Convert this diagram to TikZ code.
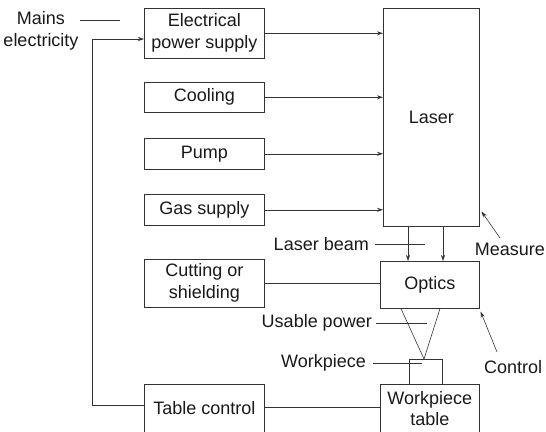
\documentclass[tikz,border=0pt]{standalone}
\usepackage{fontspec}
\setmainfont{Liberation Sans}
\usetikzlibrary{arrows.meta}
\begin{document}
\begin{tikzpicture}[x=1pt,y=-1pt,
  every node/.style={font=\fontsize{18}{22}\selectfont, text=black!90},
  box/.style={draw=black!80, line width=0.6pt, anchor=north west, inner sep=1pt, align=center},
  conn/.style={draw=black!80, line width=0.6pt},
  arr/.style={conn, -{Stealth[length=6pt,width=4pt]}},
  lbl/.style={inner sep=0pt, anchor=east}]
\useasboundingbox (0,0) rectangle (546,431);
\clip (0,0) rectangle (546,431);
% left column
\node[box, minimum width=120pt, minimum height=50pt] (eps) at (144,8) {Electrical\\power supply};
\node[box, minimum width=120pt, minimum height=30pt] (cool) at (144,82) {Cooling};
\node[box, minimum width=120pt, minimum height=31pt] (pump) at (144,138) {Pump};
\node[box, minimum width=120pt, minimum height=31pt] (gas) at (144,194) {Gas supply};
\node[box, minimum width=120pt, minimum height=48pt] (cut) at (144,259) {Cutting or\\shielding};
\node[box, minimum width=120pt, minimum height=52pt] (tc) at (144,384) {\raisebox{4pt}{Table control}};
% right column
\node[box, minimum width=96pt, minimum height=218pt] (laser) at (383,8) {Laser};
\node[box, minimum width=99pt, minimum height=47pt] (optics) at (380,261) {Optics};
\node[box, minimum width=99pt, minimum height=52pt] (wt) at (380,384) {\raisebox{4pt}{\begin{tabular}{@{}c@{}}Workpiece\\[-1pt]table\end{tabular}}};
\node[box, minimum width=33pt, minimum height=25pt] (wp) at (409,359) {};
% arrows into laser
\draw[arr] (eps.east) -- (eps.east -| laser.west);
\draw[arr] (cool.east) -- (cool.east -| laser.west);
\draw[arr] (pump.east) -- (pump.east -| laser.west);
\draw[arr] (gas.east) -- (gas.east -| laser.west);
% laser beam
\draw[arr] ([xshift=25pt]laser.south west) -- ([xshift=25pt]laser.south west |- optics.north);
\draw[arr] ([xshift=60pt]laser.south west) -- ([xshift=60pt]laser.south west |- optics.north);
% other links
\draw[conn] (cut.east |- 0,283) -- (optics.west |- 0,283);
\draw[conn] (tc.east |- 0,407) -- (wt.west |- 0,407);
% beam triangle
\coordinate (apex) at (424,359);
\draw[conn] ([xshift=21pt]optics.south west) -- (apex) -- ([xshift=60pt]optics.south west);
% feedback
\coordinate (fb1) at (92,405);
\coordinate (fb2) at (92,39);
\draw[arr] (tc.west |- fb1) -- (fb1) -- (fb2) -- (eps.west |- fb2);
% labels
\node[inner sep=0pt, align=center] (mains) at (41,31) {Mains\\electricity};
\coordinate (m1) at (80,20); \coordinate (m2) at (120,20);
\draw[conn] (m1) -- (m2);
\node[lbl] (lb) at (369,244) {Laser beam};
\coordinate (lb1) at (375,244); \coordinate (lb2) at (425,244);
\draw[conn] (lb1) -- (lb2);
\node[lbl] (up) at (372,323) {Usable power};
\coordinate (up1) at (376,323); \coordinate (up2) at (427,323);
\draw[conn] (up1) -- (up2);
\node[lbl] (wpl) at (366,363) {Workpiece};
\coordinate (w1) at (373,363); \coordinate (w2) at (422,363);
\draw[conn] (w1) -- (w2);
\node[inner sep=0pt, anchor=east] (meas) at (545,249) {Measure};
\coordinate (ms1) at (500,238);
\draw[arr] (ms1) -- ([xshift=2pt,yshift=15pt]laser.south east);
\node[inner sep=0pt, anchor=west] (ctrl) at (484,367) {Control};
\coordinate (c1) at (497,352);
\draw[arr] (c1) -- ([xshift=1pt,yshift=-3pt]optics.south east);
\end{tikzpicture}
\end{document}
